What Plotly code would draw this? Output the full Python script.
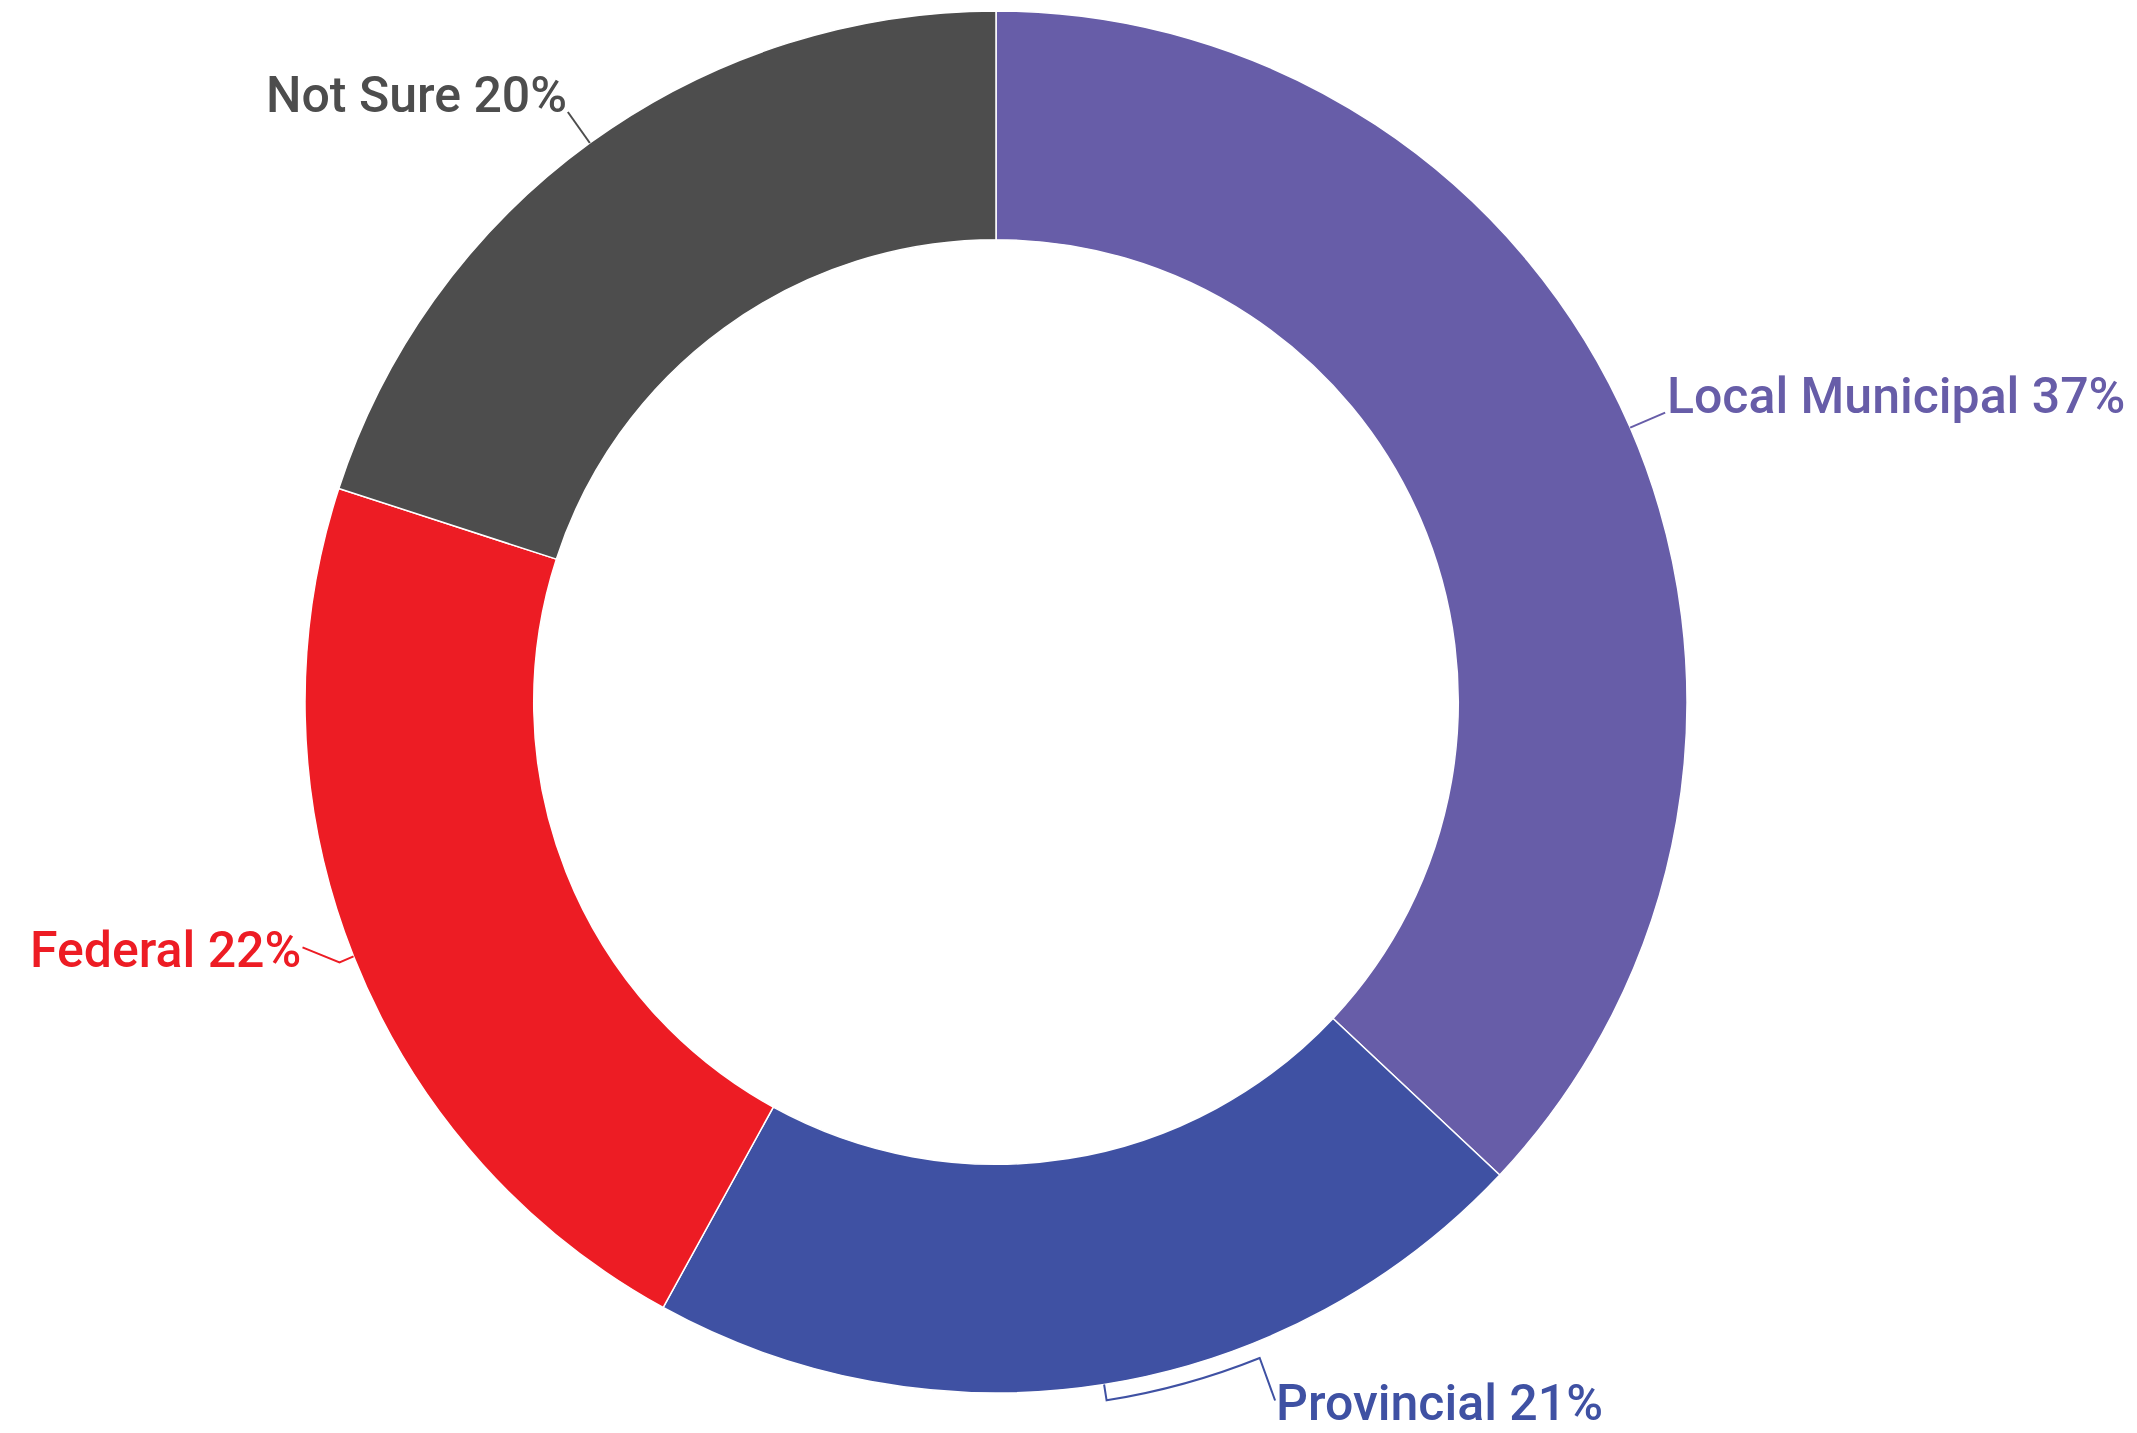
import math
import plotly.graph_objects as go

labels = ['Local Municipal', 'Provincial', 'Federal', 'Not Sure']
values = [37, 21, 22, 20]
colors = ['#675da8', '#3f51a3', '#ed1c24', '#4d4d4d']

W, H = 2137, 1433
OFF = 8                     # page body margin
cx, cy, R = 996, 702, 691   # pie centre and outer radius, px on screen


def px(x, y):
    return (x - OFF) / W, 1 - (y - OFF) / H


x0, y1 = px(cx - R, cy - R)
x1, y0 = px(cx + R, cy + R)

fig = go.Figure(go.Pie(
    labels=labels,
    values=values,
    hole=0.669,
    sort=False,
    direction='clockwise',
    rotation=0,
    marker=dict(colors=colors, line=dict(color='white', width=1.5)),
    textinfo='none',
    hoverinfo='label+percent',
    showlegend=False,
    domain=dict(x=[x0, x1], y=[y0, y1]),
))

total = sum(values)
cum = 0
mids = []
for v in values:
    a = math.radians((cum + v / 2) / total * 360)
    mids.append((a, cx + R * math.sin(a), cy - R * math.cos(a)))
    cum += v

# (anchor side, text dx, text dy) relative to the slice mid point
place = [
    ('left', 35, -32),
    ('left', 170, 19),
    ('right', -51, -6),
    ('right', -21, -48),
]

shapes = []
annotations = []
for i, (a, mx, my) in enumerate(mids):
    side, tdx, tdy = place[i]
    xa, ya = px(mx + tdx, my + tdy)
    pct = round(values[i] / total * 100)
    annotations.append(dict(
        x=xa, y=ya, xref='paper', yref='paper',
        text=f'{labels[i]} {pct}%', showarrow=False,
        xanchor=side, yanchor='middle',
        font=dict(family='Roboto', size=50, color=colors[i], weight=500),
    ))
    if i == 0:
        path = 'M{},{} L{},{}'.format(*px(mx, my), *px(mx + 35, my - 15))
    elif i == 3:
        path = 'M{},{} L{},{}'.format(*px(mx, my), *px(mx - 22, my - 31))
    elif i == 2:
        path = 'M{},{} L{},{} L{},{}'.format(*px(mx, my), *px(mx - 14, my + 6),
                                              *px(mx - 51, my - 9))
    else:
        r2 = R + 16
        a2 = a - math.radians(12.9)
        am = (a + a2) / 2
        rc = r2 / math.cos((a - a2) / 2)
        p1 = px(cx + r2 * math.sin(a), cy - r2 * math.cos(a))
        pc = px(cx + rc * math.sin(am), cy - rc * math.cos(am))
        p2 = px(cx + r2 * math.sin(a2), cy - r2 * math.cos(a2))
        p3 = px(mx + 171, my + 16)
        path = 'M{},{} L{},{} Q{},{} {},{} L{},{}'.format(*px(mx, my), *p1, *pc, *p2, *p3)
    shapes.append(dict(type='path', path=path, xref='paper', yref='paper',
                       line=dict(color=colors[i], width=2)))

fig.update_layout(
    width=W, height=H,
    margin=dict(l=0, r=0, t=0, b=0),
    paper_bgcolor='white',
    plot_bgcolor='white',
    font=dict(family='Roboto'),
    shapes=shapes,
    annotations=annotations,
)

fig.write_html('out.html')
